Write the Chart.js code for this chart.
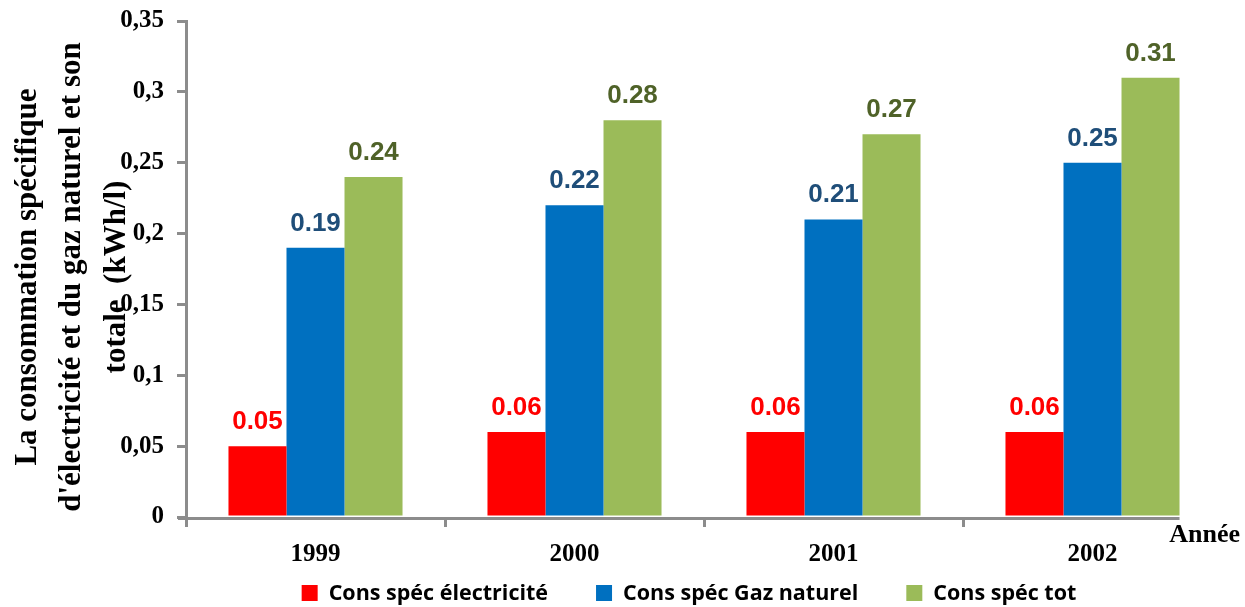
<!DOCTYPE html>
<html>
<head>
<meta charset="utf-8">
<script src="https://cdn.jsdelivr.net/npm/chart.js@4"></script>
<style>
html,body{margin:0;padding:0;background:#fff;}
#wrap{width:1245px;height:607px;position:relative;}
</style>
</head>
<body>
<div id="wrap"><canvas id="c" width="1245" height="607"></canvas></div>
<script>
const categories = ['1999', '2000', '2001', '2002'];
const seriesNames = ['Cons spéc électricité', 'Cons spéc Gaz naturel', 'Cons spéc tot'];
const electricite = [0.05, 0.06, 0.06, 0.06];
const gazNaturel = [0.19, 0.22, 0.21, 0.25];
const total = [0.24, 0.28, 0.27, 0.31];
const yTickLabels = ['0', '0,05', '0,1', '0,15', '0,2', '0,25', '0,3', '0,35'];
const yTitle = ['La consommation spécifique', "d'électricité et du gaz naturel et son", 'totale  (kWh/l)'];
const xTitle = 'Année';

const barColors = ['#FF0000', '#0070C0', '#9BBB59'];
const labelColors = ['#FF0000', '#1F4E79', '#4F6228'];
const axisColor = '#8C8C8C';
const serif = '"Liberation Serif", "Times New Roman", serif';
const legendFont = 'bold 21.5px "Open Sans", "Liberation Sans", sans-serif';

const decorPlugin = {
  id: 'decor',
  afterDatasetsDraw(chart) {
    const ctx = chart.ctx;
    const xs = chart.scales.x, ys = chart.scales.y;
    ctx.save();
    // x axis line, from the y axis to the right edge of the last bar
    const lastMeta = chart.getDatasetMeta(chart.data.datasets.length - 1);
    const lastBar = lastMeta.data[lastMeta.data.length - 1];
    ctx.strokeStyle = axisColor;
    ctx.lineWidth = 3;
    ctx.beginPath();
    ctx.moveTo(xs.left - 8, ys.bottom + 1.5);
    ctx.lineTo(lastBar.x + lastBar.width / 2, ys.bottom + 1.5);
    ctx.stroke();

    // value labels
    ctx.font = 'bold 26px "Liberation Sans", Arial, sans-serif';
    ctx.textAlign = 'center';
    ctx.textBaseline = 'alphabetic';
    chart.data.datasets.forEach((ds, i) => {
      const meta = chart.getDatasetMeta(i);
      meta.data.forEach((bar, j) => {
        ctx.fillStyle = labelColors[i];
        ctx.fillText(ds.data[j].toFixed(2), bar.x, bar.y - 17);
      });
    });

    // x axis title "Année"
    ctx.font = 'bold 26px ' + serif;
    ctx.fillStyle = '#000';
    ctx.textAlign = 'right';
    ctx.textBaseline = 'middle';
    ctx.fillText(xTitle, chart.width - 5, ys.bottom + 18);

    // y axis title (three lines, rotated)
    ctx.font = 'bold 31px ' + serif;
    ctx.textAlign = 'center';
    ctx.textBaseline = 'middle';
    const cy = (ys.top + ys.bottom) / 2 + 8;
    const lineXs = [28, 72, 117];
    yTitle.forEach((t, k) => {
      ctx.save();
      ctx.translate(lineXs[k], cy);
      ctx.rotate(-Math.PI / 2);
      ctx.fillText(t, 0, 0);
      ctx.restore();
    });

    // legend
    ctx.font = legendFont;
    ctx.textAlign = 'left';
    ctx.textBaseline = 'middle';
    const box = 16, boxGap = 11, itemGap = 48;
    const widths = chart.data.datasets.map(ds => box + boxGap + ctx.measureText(ds.label).width);
    const totalW = widths.reduce((a, b) => a + b, 0) + itemGap * (widths.length - 1);
    let lx = 689 - totalW / 2;
    const ly = 593;
    chart.data.datasets.forEach((ds, i) => {
      ctx.fillStyle = ds.backgroundColor;
      ctx.fillRect(lx, ly - box / 2, box, box);
      ctx.fillStyle = '#000';
      ctx.fillText(ds.label, lx + box + boxGap, ly + 1);
      lx += widths[i] + itemGap;
    });
    ctx.restore();
  }
};

new Chart(document.getElementById('c'), {
  type: 'bar',
  data: {
    labels: categories,
    datasets: [
      { label: seriesNames[0], data: electricite, backgroundColor: barColors[0] },
      { label: seriesNames[1], data: gazNaturel, backgroundColor: barColors[1] },
      { label: seriesNames[2], data: total, backgroundColor: barColors[2] }
    ]
  },
  options: {
    responsive: false,
    animation: false,
    devicePixelRatio: 1,
    layout: { padding: { left: 0, right: 23, top: 21, bottom: 30 } },
    datasets: { bar: { categoryPercentage: 0.672, barPercentage: 1.0 } },
    plugins: {
      legend: { display: false },
      tooltip: { enabled: false }
    },
    scales: {
      x: {
        afterFit: s => { s.height = 60; },
        grid: {
          offset: true, drawOnChartArea: false, tickLength: 10, lineWidth: 3,
          color: c => (c.type === 'tick' ? axisColor : 'rgba(0,0,0,0)')
        },
        border: { display: false },
        ticks: { color: '#000', padding: 13, font: { family: serif, size: 25, weight: 'bold' } }
      },
      y: {
        min: 0, max: 0.35,
        afterFit: s => { s.width = 186; s.paddingTop = 4; s.paddingBottom = 4; },
        grid: { drawOnChartArea: false, tickLength: 9, color: axisColor, lineWidth: 3 },
        border: { color: axisColor, width: 3 },
        ticks: {
          stepSize: 0.05, padding: 13, color: '#000',
          font: { family: serif, size: 25, weight: 'bold' },
          callback: (v, i) => yTickLabels[i]
        }
      }
    }
  },
  plugins: [decorPlugin]
});
</script>
</body>
</html>
